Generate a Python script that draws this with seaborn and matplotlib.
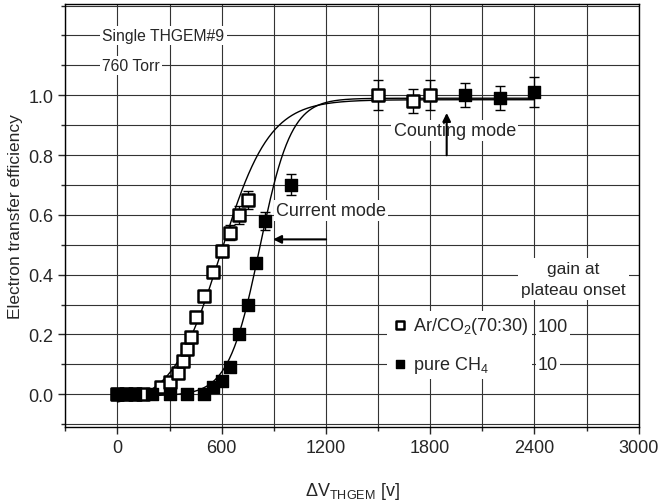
import numpy as np
import pandas as pd
import matplotlib
matplotlib.use("Agg")
import matplotlib.pyplot as plt
import seaborn as sns

# ---------------- data ----------------
ar_x = [0, 50, 100, 150, 250, 300, 350, 375, 400, 425, 450, 500, 550, 600, 650, 700, 750, 1500, 1700, 1800]
ar_y = [0.0, 0.0, 0.0, 0.0, 0.025, 0.04, 0.07, 0.11, 0.15, 0.19, 0.26, 0.33, 0.41, 0.48, 0.54, 0.60, 0.65, 1.00, 0.98, 1.00]
ar_err = [0, 0, 0, 0, 0.01, 0.01, 0.01, 0.01, 0.01, 0.01, 0, 0, 0, 0.02, 0.025, 0.03, 0.03, 0.05, 0.04, 0.05]

ch_x = [0, 50, 100, 200, 300, 400, 500, 550, 600, 650, 700, 750, 800, 850, 1000, 2000, 2200, 2400]
ch_y = [0.0, 0.0, 0.0, 0.0, 0.0, 0.0, 0.0, 0.025, 0.045, 0.09, 0.20, 0.30, 0.44, 0.58, 0.70, 1.00, 0.99, 1.01]
ch_err = [0, 0, 0, 0, 0, 0, 0, 0, 0, 0, 0, 0, 0.015, 0.03, 0.035, 0.04, 0.04, 0.05]

# Boltzmann fit parameters [A1, A2, x0, dx]
ar_fit = [-0.04, 0.985, 595, 140]
ch_fit = [-0.005, 0.99, 820, 90]
fit_range = [0, 2400]

legend_labels = ["Ar/CO$_2$(70:30)", "pure CH$_4$"]
gain_values = ["100", "10"]
x_ticks = [0, 600, 1200, 1800, 2400, 3000]
y_ticks = [0.0, 0.2, 0.4, 0.6, 0.8, 1.0]


def boltz(x, p):
    a1, a2, x0, dx = p
    return a2 + (a1 - a2) / (1.0 + np.exp((x - x0) / dx))


sns.set_style("ticks")
plt.rcParams["font.family"] = ["Liberation Sans", "DejaVu Sans"]
plt.rcParams["mathtext.default"] = "regular"
plt.rcParams["font.size"] = 13

fig = plt.figure(figsize=(6.66, 5.02), dpi=100)
ax = fig.add_axes([0.098, 0.147, 0.861, 0.843])

df_ar = pd.DataFrame({"x": ar_x, "y": ar_y, "err": ar_err})
df_ch = pd.DataFrame({"x": ch_x, "y": ch_y, "err": ch_err})

# fit curves
xf = np.linspace(fit_range[0], fit_range[1], 500)
sns.lineplot(x=xf, y=boltz(xf, ar_fit), ax=ax, color="black", lw=1.0, zorder=3)
sns.lineplot(x=xf, y=boltz(xf, ch_fit), ax=ax, color="black", lw=1.0, zorder=3)

# error bars
for d in (df_ar, df_ch):
    e = d[d.err > 0]
    ax.errorbar(e.x, e.y, yerr=e.err, fmt="none", ecolor="black", elinewidth=1.0,
                capsize=3.5, capthick=1.0, zorder=4)

sns.scatterplot(data=df_ar, x="x", y="y", marker="s", s=85, facecolor="white",
                edgecolor="black", linewidth=1.8, ax=ax, zorder=5, label=legend_labels[0])
sns.scatterplot(data=df_ch, x="x", y="y", marker="s", s=85, color="black",
                edgecolor="black", linewidth=1.0, ax=ax, zorder=6, label=legend_labels[1])

ax.set_xlim(-300, 3000)
ax.set_ylim(-0.11, 1.305)
ax.set_xticks(x_ticks)
ax.set_yticks(y_ticks)
ax.set_yticklabels([f"{v:.1f}" for v in y_ticks])
ax.set_xticks(np.arange(-300, 3001, 300), minor=True)
ax.set_yticks(np.arange(-0.1, 1.31, 0.1), minor=True)
ax.grid(which="both", color="0.2", lw=0.8)
ax.set_axisbelow(True)
ax.tick_params(which="major", direction="out", length=5, width=1, labelsize=13)
ax.tick_params(which="minor", direction="out", length=3, width=1)
for s in ax.spines.values():
    s.set_linewidth(1.0)
    s.set_color("black")
    s.set_zorder(12)

ax.set_xlabel("ΔV$_{THGEM}$ [v]", fontsize=13, labelpad=17)
ax.set_ylabel("Electron transfer efficiency", fontsize=12.5, labelpad=4)

wb = dict(facecolor="white", edgecolor="none", pad=1.5)
ax.text(-86, 1.2, "Single THGEM#9", ha="left", va="center", fontsize=11.3, bbox=wb, zorder=7)
ax.text(-86, 1.1, "760 Torr", ha="left", va="center", fontsize=11.3, bbox=wb, zorder=7)
ax.text(1941, 0.883, "Counting mode", ha="center", va="center", fontsize=13, bbox=wb, zorder=7)
ax.annotate("", xy=(1895, 0.95), xytext=(1895, 0.79),
            arrowprops=dict(arrowstyle="-|>", color="black", lw=1.5, mutation_scale=12), zorder=7)
ax.text(913, 0.615, "Current mode", ha="left", va="center", fontsize=13, bbox=wb, zorder=7)
ax.annotate("", xy=(880, 0.518), xytext=(1217, 0.518),
            arrowprops=dict(arrowstyle="-|>", color="black", lw=1.5, mutation_scale=12), zorder=7)
ax.text(2625, 0.385, "gain at\nplateau onset", ha="center", va="center", fontsize=12.5,
        linespacing=1.55, bbox=dict(facecolor="white", edgecolor="none", pad=2), zorder=7)

leg = ax.legend(loc="center left", bbox_to_anchor=(0.561, 0.194), frameon=True,
                fontsize=13, handletextpad=0.25, labelspacing=1.0, borderpad=0.2,
                borderaxespad=0, markerscale=0.55, handlelength=1.0)
leg.get_frame().set_edgecolor("none")
leg.get_frame().set_facecolor("white")
leg.get_frame().set_alpha(1)
leg.set_zorder(8)

ax.text(2420, 0.227, gain_values[0], ha="left", va="center", fontsize=13, bbox=wb, zorder=9)
ax.text(2420, 0.10, gain_values[1], ha="left", va="center", fontsize=13, bbox=wb, zorder=9)

fig.savefig("out.png", dpi=100)
